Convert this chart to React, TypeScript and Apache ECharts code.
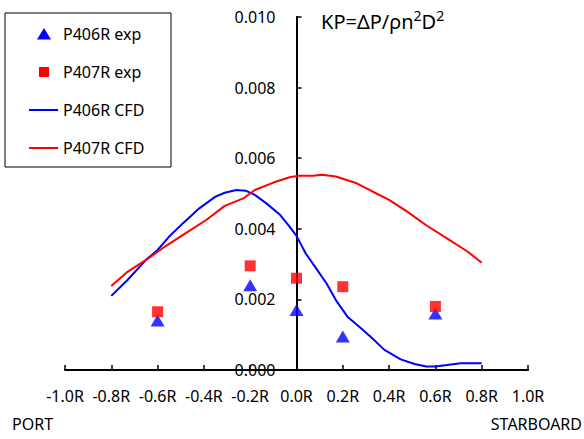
import React, { useEffect, useRef } from "react";
import * as echarts from "echarts";

// Radial stations (fraction of propeller radius R)
const expStations = [-0.6, -0.2, 0.0, 0.2, 0.6];
const p406Exp = [0.0014, 0.0024, 0.0017, 0.00095, 0.0016];
const p407Exp = [0.00165, 0.00295, 0.0026, 0.00236, 0.0018];

const p406CfdX = [
  -0.8, -0.73, -0.65, -0.6, -0.55, -0.49, -0.42, -0.35, -0.31, -0.26, -0.22, -0.18, -0.13,
  -0.07, -0.03, 0.0, 0.04, 0.09, 0.13, 0.17, 0.22, 0.27, 0.32, 0.38, 0.45, 0.51, 0.56, 0.6,
  0.65, 0.71, 0.8,
];
const p406CfdY = [
  0.0021, 0.00255, 0.00312, 0.0034, 0.00378, 0.00416, 0.00458, 0.00491, 0.00502, 0.0051,
  0.00508, 0.00496, 0.00472, 0.00439, 0.00406, 0.0038, 0.0033, 0.00283, 0.00245, 0.00198,
  0.00151, 0.00123, 0.00094, 0.00057, 0.0003, 0.00017, 0.0001, 0.0001, 0.00014, 0.00019,
  0.00019,
];

const p407CfdX = [
  -0.8, -0.73, -0.64, -0.57, -0.48, -0.39, -0.31, -0.23, -0.18, -0.1, -0.03, 0.01, 0.07,
  0.11, 0.17, 0.26, 0.33, 0.4, 0.48, 0.56, 0.65, 0.74, 0.8,
];
const p407CfdY = [
  0.00238, 0.00278, 0.00316, 0.00349, 0.00387, 0.00425, 0.00465, 0.00486, 0.0051, 0.00531,
  0.00546, 0.0055, 0.0055, 0.00553, 0.00548, 0.00529, 0.00505, 0.00482, 0.00448, 0.0041,
  0.00373, 0.00335, 0.00304,
];

const seriesNames = ["P406R exp", "P407R exp", "P406R CFD", "P407R CFD"];

const FONT = "Noto Sans";
const FS = 16;
const BLUE = "#0000ff";
const RED = "#ff0000";

const zip = (xs: number[], ys: number[]) => xs.map((x, i) => [x, ys[i]]);

// Boxed legend in the upper-left corner: marker / line swatch + label per series
function legendGraphic() {
  const boxX = 5;
  const boxY = 13;
  const rowY = [34, 72, 110, 148];
  const iconCx = 44;
  const textX = 63;
  const els: any[] = [
    {
      type: "rect",
      shape: { x: boxX, y: boxY, width: 166, height: 154 },
      style: { fill: "#fff", stroke: "#000", lineWidth: 1 },
    },
    {
      type: "polygon",
      shape: {
        points: [
          [iconCx, rowY[0] - 6],
          [iconCx + 7, rowY[0] + 5.5],
          [iconCx - 7, rowY[0] + 5.5],
        ],
      },
      style: { fill: BLUE },
    },
    {
      type: "rect",
      shape: { x: iconCx - 5, y: rowY[1] - 5, width: 10, height: 10 },
      style: { fill: RED },
    },
    {
      type: "line",
      shape: { x1: 29, y1: rowY[2], x2: 58, y2: rowY[2] },
      style: { stroke: BLUE, lineWidth: 2 },
    },
    {
      type: "line",
      shape: { x1: 29, y1: rowY[3], x2: 58, y2: rowY[3] },
      style: { stroke: RED, lineWidth: 2 },
    },
  ];
  seriesNames.forEach((name, i) => {
    els.push({
      type: "text",
      x: textX,
      y: rowY[i],
      style: {
        text: name,
        fontFamily: FONT,
        fontSize: FS,
        fill: "#000",
        verticalAlign: "middle",
        align: "left",
      },
    });
  });
  return { type: "group", z: 100, children: els };
}

export default function App() {
  const ref = useRef<HTMLDivElement>(null);

  useEffect(() => {
    document.body.style.margin = "0";
    const chart = echarts.init(ref.current!, null, { renderer: "svg" });
    const gridLeft = 65;
    const gridRight = 56;
    const plotWidth = 584 - gridLeft - gridRight;
    chart.setOption({
      animation: false,
      backgroundColor: "#ffffff",
      textStyle: { fontFamily: FONT, color: "#000" },
      grid: { left: gridLeft, right: gridRight, top: 17, bottom: 69 },
      graphic: [
        legendGraphic(),
        {
          type: "text",
          x: 321,
          y: 21,
          style: {
            text: "KP=ΔP/ρn{sup|2}D{sup|2}",
            fontFamily: FONT,
            fontSize: 20,
            fill: "#000",
            verticalAlign: "middle",
            rich: {
              sup: { fontFamily: FONT, fontSize: 14, verticalAlign: "top", padding: [0, 0, 11, 0] },
            },
          },
        },
        {
          type: "text",
          x: 12,
          y: 424,
          style: {
            text: "PORT",
            fontFamily: FONT,
            fontSize: FS,
            fill: "#000",
            verticalAlign: "middle",
          },
        },
        {
          type: "text",
          x: 582,
          y: 424,
          style: {
            text: "STARBOARD",
            fontFamily: FONT,
            fontSize: FS,
            fill: "#000",
            align: "right",
            verticalAlign: "middle",
          },
        },
      ],
      xAxis: {
        type: "value",
        min: -1,
        max: 1,
        interval: 0.2,
        axisLine: { onZero: true, lineStyle: { color: "#000", width: 2 } },
        axisTick: { inside: true, length: 5, lineStyle: { color: "#000", width: 1.5 } },
        splitLine: { show: false },
        axisLabel: {
          margin: 18,
          fontFamily: FONT,
          fontSize: FS,
          color: "#000",
          formatter: (v: number) => `${Math.abs(v) < 1e-9 ? "0.0" : v.toFixed(1)}R`,
        },
      },
      yAxis: {
        type: "value",
        min: 0,
        max: 0.01,
        interval: 0.002,
        // the vertical axis sits at the hub centre (x = 0)
        offset: -plotWidth / 2,
        axisLine: { onZero: false, lineStyle: { color: "#000", width: 2 } },
        axisTick: { inside: true, length: 5, lineStyle: { color: "#000", width: 1.5 } },
        splitLine: { show: false },
        axisLabel: {
          margin: 21,
          fontFamily: FONT,
          fontSize: FS,
          color: "#000",
          formatter: (v: number) => v.toFixed(3),
        },
      },
      series: [
        {
          name: "P406R CFD",
          type: "line",
          data: zip(p406CfdX, p406CfdY),
          symbol: "none",
          lineStyle: { color: BLUE, width: 2 },
          itemStyle: { color: BLUE },
        },
        {
          name: "P407R CFD",
          type: "line",
          data: zip(p407CfdX, p407CfdY),
          symbol: "none",
          lineStyle: { color: RED, width: 2 },
          itemStyle: { color: RED },
        },
        {
          name: "P406R exp",
          type: "scatter",
          data: zip(expStations, p406Exp),
          symbol: "triangle",
          symbolSize: [14, 12],
          itemStyle: { color: BLUE },
        },
        {
          name: "P407R exp",
          type: "scatter",
          data: zip(expStations, p407Exp),
          symbol: "rect",
          symbolSize: 11,
          itemStyle: { color: RED },
        },
      ],
    });
    return () => chart.dispose();
  }, []);

  return (
    <div
      ref={ref}
      style={{ position: "absolute", left: 0, top: 0, width: 584, height: 439 }}
    />
  );
}
